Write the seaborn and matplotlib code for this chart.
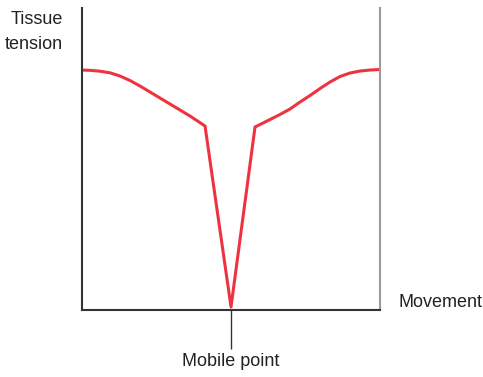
import matplotlib.pyplot as plt
import matplotlib.patheffects as pe
import seaborn as sns
import pandas as pd

# Tissue tension along the movement
movement = [0.0, 0.268, 0.604, 0.94, 1.275, 1.611, 1.946, 2.282, 2.617, 2.953, 3.289, 3.624, 4.128,
            5.0,
            5.805, 6.04, 6.309, 6.644, 6.98, 7.315, 7.651, 7.987, 8.322, 8.658, 8.993, 9.329, 9.664, 10.0]
tension = [7.947, 7.937, 7.907, 7.854, 7.748, 7.599, 7.417, 7.219, 7.02, 6.821, 6.623, 6.424, 6.093,
           0.1,
           6.06, 6.175, 6.308, 6.474, 6.656, 6.887, 7.103, 7.334, 7.55, 7.732, 7.848, 7.914, 7.947, 7.964]
tick_pos = [5.0]
tick_labels = ["Mobile point"]

df = pd.DataFrame({"movement": movement, "tension": tension})

sns.set_style("white")
plt.rcParams["font.family"] = ["Liberation Sans", "DejaVu Sans"]

fig = plt.figure(figsize=(4.83, 3.77), dpi=100)
ax = fig.add_axes([0.1698, 0.1777, 0.617, 0.801])

sns.lineplot(data=df, x="movement", y="tension", color="#ee3340", linewidth=2.2, sort=False, ax=ax)

ax.set_xlim(0, 10)
ax.set_ylim(0, 10)
ax.set_xlabel("")
ax.set_ylabel("")

#spines: dark left/bottom, grey right, no top
ax.spines["top"].set_visible(False)
ax.spines["left"].set_color("#333333")
ax.spines["bottom"].set_color("#333333")
ax.spines["right"].set_color("#9a9a9a")
shadow = [pe.SimplePatchShadow(offset=(1.5, -1.5), shadow_rgbFace="#bbbbbb", alpha=0.6), pe.Normal()]
for side in ["left", "bottom", "right"]:
    ax.spines[side].set_linewidth(1.5)
    ax.spines[side].set_path_effects(shadow)

ax.set_yticks([])
ax.set_xticks(tick_pos)
ax.set_xticklabels(tick_labels, fontsize=13, color="#222222")
ax.tick_params(axis="x", direction="out", length=28, width=1, color="#333333", pad=3, bottom=True)

fig.text(0.131, 0.9363, "Tissue", ha="right", va="baseline", fontsize=13, color="#222222")
fig.text(0.131, 0.870, "tension", ha="right", va="baseline", fontsize=13, color="#222222")
fig.text(0.826, 0.1865, "Movement", ha="left", va="baseline", fontsize=13, color="#222222")

fig.savefig("out.png", dpi=100)
